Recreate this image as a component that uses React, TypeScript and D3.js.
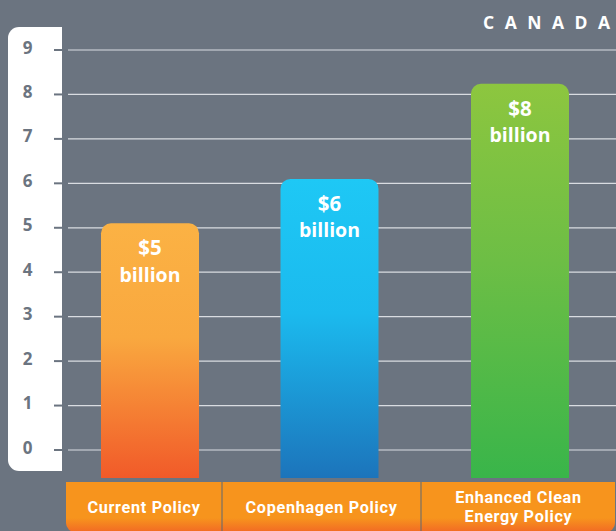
import React from "react";
import * as d3 from "d3";

const categories = ["Current Policy", "Copenhagen Policy", "Enhanced Clean Energy Policy"];
const categoryLines = [["Current Policy"], ["Copenhagen Policy"], ["Enhanced Clean", "Energy Policy"]];
const values = [5.1, 6.1, 8.24];
const valueLabels = ["$5", "$6", "$8"];
const ticks = [0, 1, 2, 3, 4, 5, 6, 7, 8, 9];
const title = "CANADA";
const gradients = [
  ["#fbb244", "#f9a83f", "#f15a29"],
  ["#1ec8f5", "#1bbaee", "#1c74bb"],
  ["#8dc63f", "#6dbe45", "#39b54a"],
];

const W = 616;
const H = 531;
const BG = "#6b7480";
const FONT = "'Open Sans', 'DejaVu Sans', sans-serif";
const BAND_FONT = "Roboto, 'Open Sans', sans-serif";

function topRoundedRect(x: number, y: number, w: number, h: number, r: number) {
  const p = d3.path();
  p.moveTo(x, y + h);
  p.lineTo(x, y + r);
  p.arcTo(x, y, x + r, y, r);
  p.lineTo(x + w - r, y);
  p.arcTo(x + w, y, x + w, y + r, r);
  p.lineTo(x + w, y + h);
  p.closePath();
  return p.toString();
}

function leftRoundedRect(x: number, y: number, w: number, h: number, r: number) {
  const p = d3.path();
  p.moveTo(x + w, y);
  p.lineTo(x + r, y);
  p.arcTo(x, y, x, y + r, r);
  p.lineTo(x, y + h - r);
  p.arcTo(x, y + h, x + r, y + h, r);
  p.lineTo(x + w, y + h);
  p.closePath();
  return p.toString();
}

function bottomRoundedRect(x: number, y: number, w: number, h: number, r: number) {
  const p = d3.path();
  p.moveTo(x, y);
  p.lineTo(x + w, y);
  p.lineTo(x + w, y + h - r);
  p.arcTo(x + w, y + h, x + w - r, y + h, r);
  p.lineTo(x + r, y + h);
  p.arcTo(x, y + h, x, y + h - r, r);
  p.closePath();
  return p.toString();
}

export default function App() {
  const y = d3.scaleLinear().domain([0, 9]).range([450, 50]);
  const barCenter = d3.scaleOrdinal<string, number>().domain(categories).range([150, 329.5, 520]);
  const column = d3
    .scaleOrdinal<string, [number, number]>()
    .domain(categories)
    .range([
      [66, 222],
      [222, 421],
      [421, 616],
    ]);
  const barW = 98;
  const barBottom = 478;
  const bandTop = 482;

  return (
    <svg
      width={W}
      height={H}
      style={{ position: "absolute", left: 0, top: 0, display: "block" }}
      fontFamily={FONT}
    >
      <defs>
        {gradients.map((g, i) => (
          <linearGradient key={i} id={`bar${i}`} x1="0" y1="0" x2="0" y2="1">
            <stop offset="0" stopColor={g[0]} />
            <stop offset="0.45" stopColor={g[1]} />
            <stop offset="1" stopColor={g[2]} />
          </linearGradient>
        ))}
        <linearGradient id="band" x1="0" y1="0" x2="0" y2="1">
          <stop offset="0" stopColor="#f7941d" />
          <stop offset="0.72" stopColor="#f7941d" />
          <stop offset="1" stopColor="#f26a24" />
        </linearGradient>
      </defs>
      <rect x={0} y={0} width={W} height={H} fill={BG} />

      {/* axis panel */}
      <path d={leftRoundedRect(8, 27, 54, 444, 11)} fill="#ffffff" />

      {/* gridlines */}
      {ticks.map((t) => (
        <line key={`g${t}`} x1={68} x2={W} y1={y(t)} y2={y(t)} stroke="#d9dce1" strokeWidth={1.2} />
      ))}
      {/* ticks + labels */}
      {ticks.map((t) => (
        <g key={`t${t}`}>
          <line x1={54} x2={62} y1={y(t)} y2={y(t)} stroke={BG} strokeWidth={2} />
          <text
            x={27.5}
            y={y(t) - 3}
            textAnchor="middle"
            dominantBaseline="central"
            fontSize={17}
            fontWeight={700}
            fill={BG}
          >
            {t}
          </text>
        </g>
      ))}

      {/* bars */}
      {categories.map((c, i) => {
        const cx = barCenter(c);
        const top = y(values[i]);
        return (
          <g key={c}>
            <path d={topRoundedRect(cx - barW / 2, top, barW, barBottom - top, 10)} fill={`url(#bar${i})`} />
            <text
              x={cx}
              y={top + 24}
              textAnchor="middle"
              dominantBaseline="central"
              fontSize={20.5}
              fontWeight={700}
              fill="#ffffff"
            >
              {valueLabels[i]}
            </text>
            <text
              x={cx}
              y={top + 51}
              textAnchor="middle"
              dominantBaseline="central"
              fontSize={19.5}
              fontWeight={700}
              fill="#ffffff"
            >
              billion
            </text>
          </g>
        );
      })}

      {/* category band */}
      <path d={bottomRoundedRect(66, bandTop, W - 66 - 1, H - bandTop + 1, 9)} fill="url(#band)" />
      {categories.slice(1).map((c) => (
        <line key={`d${c}`} x1={column(c)[0]} x2={column(c)[0]} y1={bandTop} y2={H} stroke="#5f6873" strokeWidth={1} />
      ))}
      {categories.map((c, i) => {
        const [a, b] = column(c);
        const cx = (a + b) / 2;
        const lines = categoryLines[i];
        const lh = 19;
        const cy = 507;
        return (
          <g key={`l${c}`}>
            {lines.map((ln, j) => (
              <text
                key={j}
                x={cx}
                y={cy + (j - (lines.length - 1) / 2) * lh}
                dominantBaseline="central"
                textAnchor="middle"
                fontFamily={BAND_FONT}
                fontSize={16.2}
                fontWeight={700}
                letterSpacing={0.7}
                fill="#ffffff"
              >
                {ln}
              </text>
            ))}
          </g>
        );
      })}

      {/* title */}
      <text
        x={483}
        y={22}
        textAnchor="start"
        dominantBaseline="central"
        fontSize={17.5}
        fontWeight={700}
        fill="#ffffff"
      >
        <tspan letterSpacing={10.5}>{title.slice(0, -1)}</tspan>
        <tspan letterSpacing={0}>{title.slice(-1)}</tspan>
      </text>
    </svg>
  );
}
